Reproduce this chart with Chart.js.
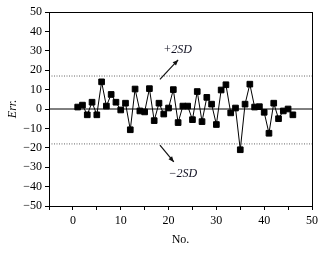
<!DOCTYPE html>
<html>
<head>
<meta charset="utf-8">
<script src="https://cdn.jsdelivr.net/npm/chart.js@4.4.1/dist/chart.umd.min.js"></script>
<style>
  html, body { margin: 0; padding: 0; background: #fff; }
  #wrap { width: 331px; height: 259px; }
</style>
</head>
<body>
<div id="wrap"><canvas id="errChart"></canvas></div>
<script>
// sample numbers and their errors
const sampleNo = [1, 2, 3, 4, 5, 6, 7, 8, 9, 10, 11, 12, 13, 14, 15, 16, 17, 18, 19, 20, 21, 22, 23,
  24, 25, 26, 27, 28, 29, 30, 31, 32, 33, 34, 35, 36, 37, 38, 39, 40, 41, 42, 43, 44, 45, 46];
const errValues = [1, 2, -3, 3.5, -3, 14, 1.5, 7.5, 3.5, -0.5, 3, -10.7, 10.3, -1, -1.5, 10.5, -6, 3,
  -2.6, 0.5, 10, -7, 1.5, 1.5, -5.5, 9, -6.5, 6, 2.5, -8, 9.8, 12.5, -2, 0.5, -21, 2.5, 12.8, 1,
  1.2, -1.7, -12.5, 3, -5, -1, 0, -3];

// limit lines
const upperSD = 17;
const lowerSD = -18;
const xRange = [-5, 50];
const yRange = [-50, 50];

const serif = 'Liberation Serif, Times New Roman, serif';

// arrows + labels for the SD lines, in data units
const sdNotes = [
  { text: '+2', from: [18.2, 15.3], to: [22, 25.3], at: [21.9, 30.5] },
  { text: '\u22122', from: [18.2, -18.6], to: [21.1, -27.3], at: [23, -33.5] }
];

const framePlugin = {
  id: 'frame',
  afterDatasetsDraw(chart) {
    const { ctx, chartArea: a, scales: { x, y } } = chart;
    ctx.save();
    ctx.strokeStyle = '#000';
    ctx.lineWidth = 1;
    ctx.strokeRect(a.left + 0.5, a.top + 0.5, a.right - a.left, a.bottom - a.top);

    sdNotes.forEach(n => {
      const x1 = x.getPixelForValue(n.from[0]), y1 = y.getPixelForValue(n.from[1]);
      const x2 = x.getPixelForValue(n.to[0]), y2 = y.getPixelForValue(n.to[1]);
      ctx.strokeStyle = '#111';
      ctx.lineWidth = 1.2;
      ctx.beginPath();
      ctx.moveTo(x1, y1);
      ctx.lineTo(x2, y2);
      ctx.stroke();
      // arrow head
      const ang = Math.atan2(y2 - y1, x2 - x1);
      ctx.fillStyle = '#111';
      ctx.beginPath();
      ctx.moveTo(x2, y2);
      ctx.lineTo(x2 - 6 * Math.cos(ang - 0.4), y2 - 6 * Math.sin(ang - 0.4));
      ctx.lineTo(x2 - 6 * Math.cos(ang + 0.4), y2 - 6 * Math.sin(ang + 0.4));
      ctx.closePath();
      ctx.fill();

      const tx = x.getPixelForValue(n.at[0]), ty = y.getPixelForValue(n.at[1]);
      ctx.font = 'italic 12px ' + serif;
      ctx.fillStyle = '#111122';
      ctx.textAlign = 'center';
      ctx.textBaseline = 'middle';
      ctx.fillText(n.text + 'SD', tx, ty);
    });
    ctx.restore();
  }
};

const ctx = document.querySelector('#errChart').getContext('2d');
const errChart = new Chart(ctx, {
  type: 'line',
  data: {
    datasets: [
      {
        label: 'Err.',
        data: sampleNo.map((n, i) => ({ x: n, y: errValues[i] })),
        borderColor: '#000',
        backgroundColor: '#000',
        borderWidth: 1,
        pointStyle: 'rect',
        pointRadius: 4,
        tension: 0
      },
      {
        label: 'zero',
        data: [{ x: xRange[0], y: 0 }, { x: xRange[1], y: 0 }],
        borderColor: '#000',
        borderWidth: 1,
        pointRadius: 0
      },
      {
        label: '+2SD',
        data: [{ x: xRange[0], y: upperSD }, { x: xRange[1], y: upperSD }],
        borderColor: '#666',
        borderWidth: 1,
        borderDash: [1, 1.5],
        pointRadius: 0
      },
      {
        label: '-2SD',
        data: [{ x: xRange[0], y: lowerSD }, { x: xRange[1], y: lowerSD }],
        borderColor: '#666',
        borderWidth: 1,
        borderDash: [1, 1.5],
        pointRadius: 0
      }
    ]
  },
  options: {
    responsive: true,
    maintainAspectRatio: false,
    animation: false,
    layout: { padding: { top: 12, right: 19, left: 0, bottom: 0 } },
    plugins: {
      legend: { display: false },
      tooltip: { enabled: false }
    },
    scales: {
      x: {
        type: 'linear',
        min: xRange[0],
        max: xRange[1],
        afterFit: s => { s.height = 53; },
        border: { display: true, color: '#000', width: 1 },
        grid: { drawOnChartArea: false, color: '#000', tickLength: 4 },
        ticks: {
          stepSize: 5,
          padding: 4,
          color: '#000',
          font: { family: serif, size: 12 },
          maxRotation: 0,
          callback: v => (v >= 0 && v % 10 === 0 ? v : '')
        },
        title: {
          display: true,
          text: 'No.',
          color: '#000',
          font: { family: serif, size: 12 },
          padding: { top: 0, bottom: 12 }
        }
      },
      y: {
        min: yRange[0],
        max: yRange[1],
        afterFit: s => { s.width = 49; },
        border: { display: true, color: '#000', width: 1 },
        grid: { drawOnChartArea: false, color: '#000', tickLength: 4 },
        ticks: {
          stepSize: 5,
          padding: 3,
          color: '#000',
          font: { family: serif, size: 12 },
          callback: v => (v % 10 === 0 ? String(v).replace('-', '\u2212') : '')
        },
        title: {
          display: true,
          text: 'Err.',
          color: '#000',
          font: { family: serif, size: 12, style: 'italic' },
          padding: { top: 6, bottom: 6 }
        }
      }
    }
  },
  plugins: [framePlugin]
});
</script>
</body>
</html>
